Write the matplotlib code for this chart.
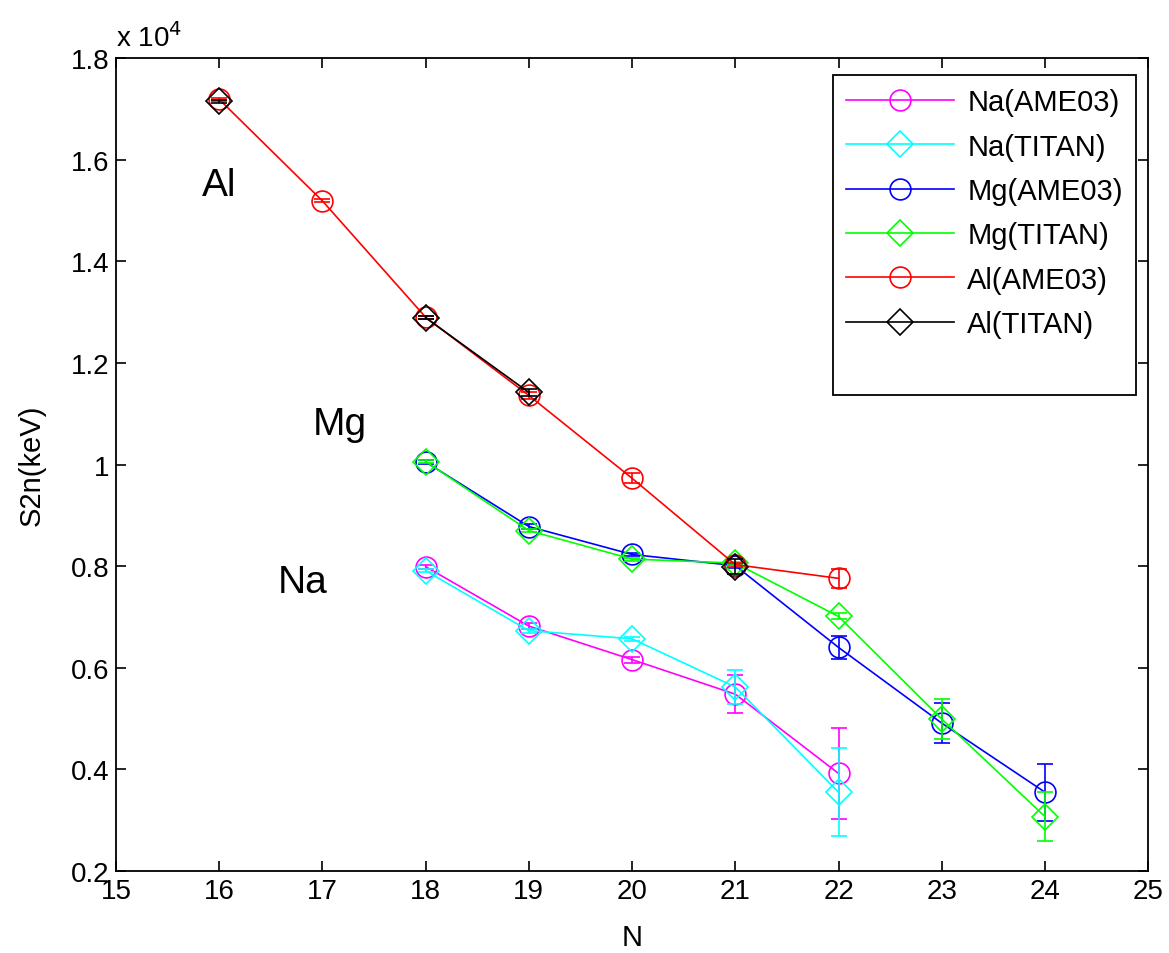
import numpy as np
import matplotlib
matplotlib.use("Agg")
from matplotlib import pyplot as plt
from matplotlib.lines import Line2D

plt.rcParams['font.family'] = ['Liberation Sans', 'DejaVu Sans']

# two-neutron separation energies (keV)
N = [16, 17, 18, 19, 20, 21, 22, 23, 24]

na_ame = [np.nan, np.nan, 7990, 6820, 6160, 5480, 3920, np.nan, np.nan]
na_ame_err = [0, 0, 40, 60, 60, 370, 890, 0, 0]
na_titan = [np.nan, np.nan, 7910, 6730, 6570, 5620, 3550, np.nan, np.nan]
na_titan_err = [0, 0, 30, 40, 40, 340, 870, 0, 0]

mg_ame = [np.nan, np.nan, 10050, 8780, 8230, 8010, 6400, 4910, 3550]
mg_ame_err = [0, 0, 30, 40, 30, 40, 230, 400, 560]
mg_titan = [np.nan, np.nan, 10060, 8700, 8140, 8060, 7010, 4990, 3070]
mg_titan_err = [0, 0, 30, 30, 30, 30, 60, 400, 490]

al_ame = [17190, 15190, 12900, 11360, 9730, 8030, 7760, np.nan, np.nan]
al_ame_err = [30, 30, 30, 60, 100, 40, 190, 0, 0]
al_titan = [17150, np.nan, 12890, 11420, np.nan, 7990, np.nan, np.nan, np.nan]
al_titan_err = [30, 0, 30, 70, 0, 150, 0, 0, 0]

series = [
    ('Na(AME03)', na_ame, na_ame_err, 'o', '#ff00ff'),
    ('Na(TITAN)', na_titan, na_titan_err, 'D', '#00ffff'),
    ('Mg(AME03)', mg_ame, mg_ame_err, 'o', '#0000ff'),
    ('Mg(TITAN)', mg_titan, mg_titan_err, 'D', '#00ff00'),
    ('Al(AME03)', al_ame, al_ame_err, 'o', '#ff0000'),
    ('Al(TITAN)', al_titan, al_titan_err, 'D', '#000000'),
]

fig = plt.figure(figsize=(11.69, 9.54), dpi=100)
ax = fig.add_axes([0.0992, 0.086, 0.883, 0.852])

handles = []
for label, vals, err, mk, col in series:
    y = np.array(vals) / 1e4
    e = np.array(err) / 1e4
    ax.errorbar(N, y, yerr=e, fmt='none', ecolor=col, elinewidth=1.2,
                capsize=6, capthick=1.2)
    h, = ax.plot(N, y, color=col, linewidth=1.2, marker=mk,
                 markersize=15 if mk == 'o' else 13,
                 markerfacecolor='none', markeredgecolor=col,
                 markeredgewidth=1.2, label=label)
    handles.append(h)

# MATLAB legend leaves an empty row at the bottom
handles.append(Line2D([], [], color='none', label=' '))

ax.set_xlim(15, 25)
ax.set_ylim(0.2, 1.8)
ax.set_xticks(range(15, 26))
ax.set_yticks([0.2, 0.4, 0.6, 0.8, 1.0, 1.2, 1.4, 1.6, 1.8])
ax.set_yticklabels(['0.2', '0.4', '0.6', '0.8', '1', '1.2', '1.4', '1.6', '1.8'])
ax.tick_params(direction='in', length=7, width=1.2, labelsize=20,
               top=True, right=True, pad=5)
for s in ax.spines.values():
    s.set_linewidth(1.3)

ax.set_xlabel('N', fontsize=21, labelpad=14)
ax.set_ylabel('S2n(keV)', fontsize=21, labelpad=18)
ax.text(0.0, 1.008, r'x 10$^4$', transform=ax.transAxes, fontsize=20,
        ha='left', va='bottom')

ax.text(16.0, 1.55, 'Al', fontsize=28, ha='center', va='center')
ax.text(17.17, 1.08, 'Mg', fontsize=28, ha='center', va='center')
ax.text(16.81, 0.768, 'Na', fontsize=28, ha='center', va='center')

leg = ax.legend(handles=handles, loc='upper right',
                bbox_to_anchor=(0.988, 0.979), fontsize=21,
                handlelength=3.7, handletextpad=0.45, labelspacing=0.56,
                borderpad=0.45, borderaxespad=0, fancybox=False,
                framealpha=1, edgecolor='black')
leg.get_frame().set_linewidth(1.3)

fig.savefig('out.png', dpi=100)
